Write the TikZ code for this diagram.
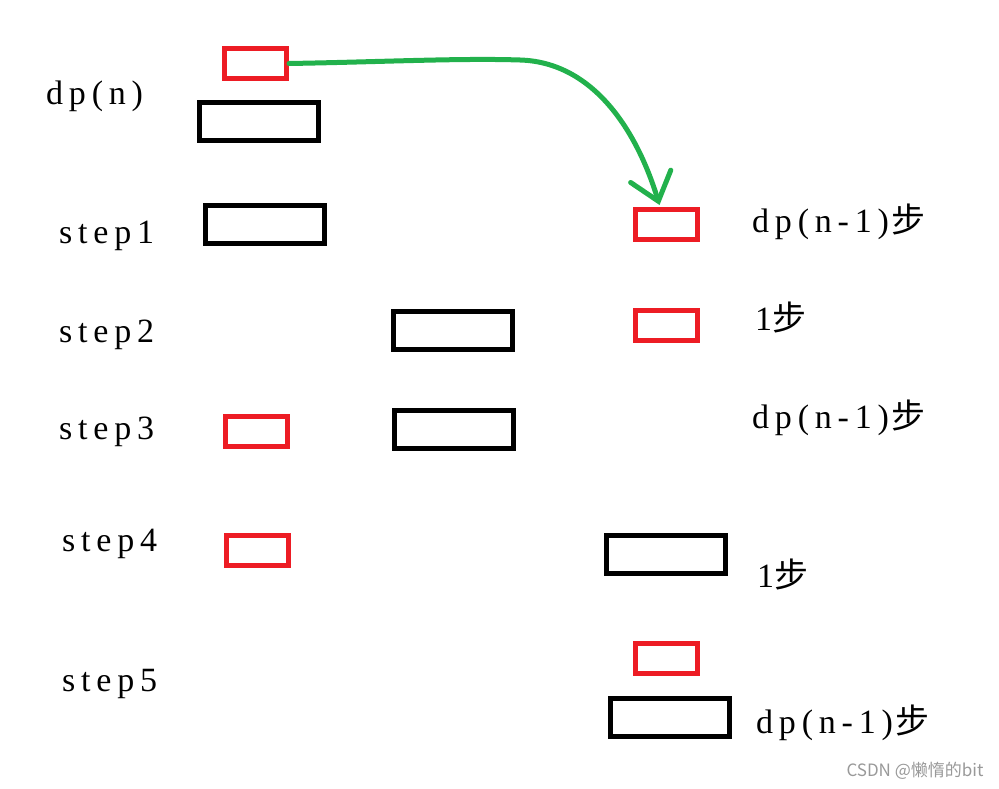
\documentclass[tikz,border=0pt]{standalone}
\usepackage{fontspec}
\setmainfont{Liberation Serif}[LetterSpace=17]
\newfontfamily\cjk{Noto Sans CJK SC}
\usetikzlibrary{calc,arrows.meta}
\definecolor{paintred}{RGB}{237,28,36}
\definecolor{paintgreen}{RGB}{34,177,76}
\tikzset{
	redbox/.style={draw=paintred, line width=5pt, minimum width=62pt, minimum height=30pt, inner sep=0pt},
	blackbox/.style={draw=black, line width=5pt, minimum width=119pt, minimum height=38pt, inner sep=0pt},
	steplabel/.style={anchor=base west, inner sep=0pt, font=\fontsize{34}{34}\selectfont},
}
\newcommand{\bu}{{\cjk 步}}

\begin{document}
\begin{tikzpicture}[x=1pt,y=-1pt]
		%\draw[help lines] (0,0) grid (999,789);
		\useasboundingbox (0,0) rectangle (999,789);
		
		\node[steplabel] (dpn) at (46,105) {dp(n)};
		\node[steplabel] (s1) at (59,243) {step1};
		\node[steplabel] (s2) at (59,342) {step2};
		\node[steplabel] (s3) at (59,439) {step3};
		\node[steplabel] (s4) at (62,551) {step4};
		\node[steplabel] (s5) at (62,691) {step5};
		
		\node[redbox] (r0) at (255.5,63.5) {};%top
		\node[blackbox] (b0) at (259,121.5) {};
		
		\node[blackbox] (b1) at (265,224.5) {};%step1
		\node[redbox] (r1) at (666.5,224.5) {};
		\node[steplabel] (t1) at (752,232) {dp(n-1)\hspace{3pt}\bu};
		
		\node[blackbox] (b2) at (453,330.5) {};%step2
		\node[redbox] (r2) at (666.5,325.5) {};
		\node[steplabel] (t2) at (755,330) {1\bu};
		
		\node[redbox] (r3) at (256.5,431.5) {};%step3
		\node[blackbox] (b3) at (453.5,429.5) {};
		\node[steplabel] (t3) at (752,428) {dp(n-1)\hspace{3pt}\bu};
		
		\node[redbox] (r4) at (257.5,550.5) {};%step4
		\node[blackbox] (b4) at (666,554.5) {};
		\node[steplabel] (t4) at (757,587) {1\bu};
		
		\node[redbox] (r5) at (666.5,658.5) {};%step5
		\node[blackbox] (b5) at (670,717) {};
		\node[steplabel] (t5) at (756,733) {dp(n-1)\hspace{3pt}\bu};
		
		\draw[paintgreen, line width=5pt, line cap=round, -{Straight Barb[length=26pt,width=42pt,line cap=round]}]
		(r0.east) .. controls (380,62) and (460,58) .. (520,60)
		.. controls (590,62) and (635,125) .. ($(r1.north)+(-7,-2)$);%move
		
		\node[text=black!40, font=\cjk\fontsize{17}{17}\selectfont] (mark) at (915,771) {CSDN @懒惰的bit};
\end{tikzpicture}
\end{document}
